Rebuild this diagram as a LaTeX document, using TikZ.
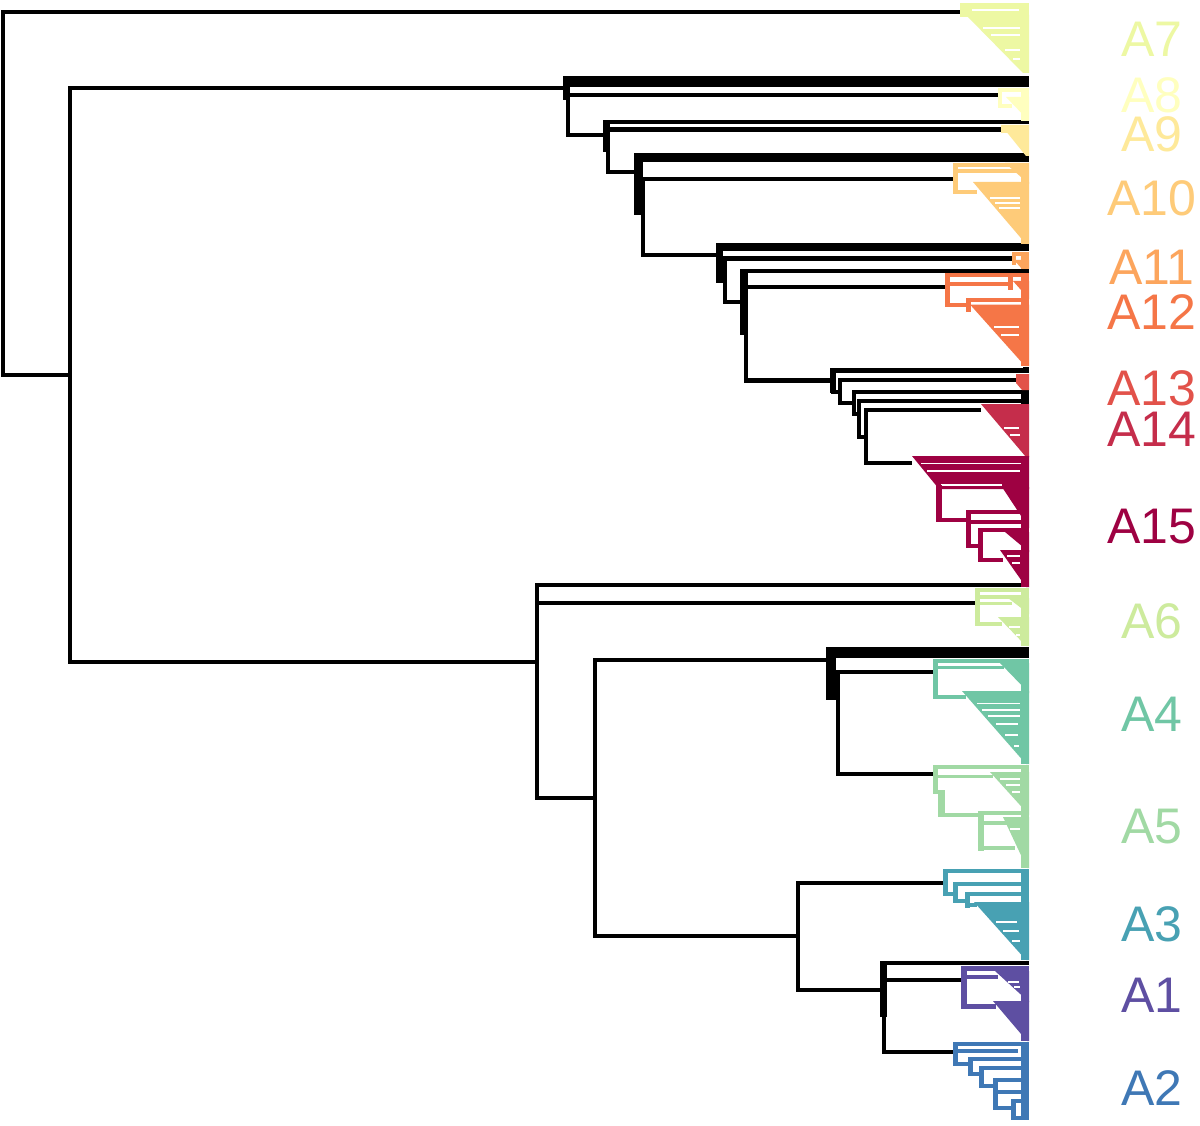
\documentclass[tikz,border=0pt]{standalone}
\usepackage{fontspec}
\setmainfont{Liberation Sans}
\definecolor{A1c}{HTML}{5E4FA2}
\definecolor{A2c}{HTML}{3F78B5}
\definecolor{A3c}{HTML}{48A1B3}
\definecolor{A4c}{HTML}{70C6A5}
\definecolor{A5c}{HTML}{A1D9A4}
\definecolor{A6c}{HTML}{CDEB9D}
\definecolor{A7c}{HTML}{EDF8A3}
\definecolor{A8c}{HTML}{FFFFBF}
\definecolor{A9c}{HTML}{FEE99A}
\definecolor{A10c}{HTML}{FECB79}
\definecolor{A11c}{HTML}{FCA55D}
\definecolor{A12c}{HTML}{F57647}
\definecolor{A13c}{HTML}{E2524A}
\definecolor{A14c}{HTML}{C52D4B}
\definecolor{A15c}{HTML}{9E0142}
\def\R{1029}
\tikzset{
  blk/.style={line width=4.6pt, draw=black},
  wl/.style={draw=white, line width=1.4pt},
  lab/.style={font=\fontsize{50}{60}\selectfont, inner sep=0pt, anchor=center, text height=34pt, text depth=0pt},
}
\begin{document}
\begin{tikzpicture}[x=1pt,y=-1pt]
\useasboundingbox[fill=white] (0,0) rectangle (1200,1126);

% ---------- black skeleton ----------
\draw[blk] (960,12) -| (3,375) -- (70,375);
\draw[blk] (565,88) -| (70,662) -- (537,662);

% upper subtree
\fill (563,76) rectangle (\R,87);
\fill (563,76) rectangle (570,100);
\draw[blk] (998,95) -| (568,135) -- (607,135);
\fill (603,120) rectangle (610,152);
\draw[blk] (\R,122) -| (608,172) -- (638,172);
\draw[blk] (608,129.5) -- (1002,129.5);
\fill (634,153) rectangle (\R,162);
\fill (634,153) rectangle (643,215);
\draw[blk] (953,179) -| (643,255) -- (718,255);
\fill (716,243) rectangle (\R,251);
\fill (716,243) rectangle (723,283);
\draw[blk] (1012,258.5) -| (725,302) -- (743,302);
\fill (740,269) rectangle (747,335);
\draw[blk] (\R,271) -| (746,380.5) -- (832,380.5);
\draw[blk] (746,287) -- (945,287);
\fill (830,368) rectangle (836,393);
\draw[blk] (\R,370.5) -| (833,392) -- (840,392);
\draw[blk] (1016,380) -| (840,403) -- (854,403);
\draw[blk] (\R,392) -| (854,414) -- (859,414);
\draw[blk] (\R,401) -| (859,437) -- (866,437);
\draw[blk] (981,410) -| (866,463) -- (912,463);
\fill (1023,367) rectangle (\R,373);
\fill (1021,391) rectangle (\R,405);

% lower subtree
\draw[blk] (\R,585) -| (537,798) -- (595,798);
\draw[blk] (537,603) -- (975,603);
\draw[blk] (828,660) -| (595,936) -- (798,936);
\fill (826,647) rectangle (\R,658);
\fill (826,647) rectangle (836,700);
\draw[blk] (933,672) -| (838,774) -- (933,774);
\draw[blk] (943,883) -| (798,990) -- (883,990);
\fill (880,961) rectangle (887,1017);
\draw[blk] (\R,963) -| (884,1052) -- (953,1052);
\draw[blk] (884,980) -- (961,980);

% ---------- clusters ----------
% A7
\fill[A7c] (960,3) rectangle (\R,17);
\fill[A7c] (966,15) -- (\R,15) -- (\R,73) -- (1023,73) -- cycle;
\draw[wl] (972,10) -- (1019,10) (983,28) -- (1020,28) (991,35) -- (1020,35) (1005,50) -- (1020,50) (1013,59) -- (1020,59);
% A8
\fill[A8c] (998,88) rectangle (\R,92);
\fill[A8c] (998,88) rectangle (1002,108);
\fill[A8c] (998,104) rectangle (1012,108);
\fill[A8c] (1006,97) -- (\R,97) -- (\R,121) -- cycle;
\fill[A8c] (1021,88) rectangle (\R,121);
% A9
\fill[A9c] (1001,125) -- (\R,125) -- (\R,156) -- (1026,156) -- cycle;
\fill[A9c] (1001,125) rectangle (1008,133);
% A10
\fill[A10c] (953,163) rectangle (\R,167);
\fill[A10c] (953,163) rectangle (958,194);
\fill[A10c] (956,169.5) rectangle (\R,173);
\fill[A10c] (1005,163) -- (\R,163) -- (\R,184) -- cycle;
\fill[A10c] (953,190) rectangle (977,194);
\fill[A10c] (973,182) -- (\R,182) -- (\R,244) -- (1026,244) -- cycle;
\fill[A10c] (1021,163) rectangle (\R,244);
\draw[wl] (990,198) -- (1020,198) (995,203) -- (1020,203) (999,208) -- (1020,208);
% A11
\fill[A11c] (1012,252) rectangle (\R,256);
\fill[A11c] (1012,252) rectangle (1016,265);
\fill[A11c] (1014,260) -- (\R,260) -- (\R,269) -- (1022,269) -- cycle;
\fill[A11c] (1021,252) rectangle (\R,269);
% A12
\fill[A12c] (945,273) rectangle (\R,277);
\fill[A12c] (945,273) rectangle (950,307);
\fill[A12c] (948,282) rectangle (1010,286);
\fill[A12c] (1008,277) rectangle (1013,290);
\fill[A12c] (1013,281) -- (\R,281) -- (\R,299) -- cycle;
\fill[A12c] (945,303) rectangle (970,307);
\fill[A12c] (966,298) rectangle (\R,302);
\fill[A12c] (966,298) rectangle (971,312);
\fill[A12c] (970,304.5) -- (\R,304.5) -- (\R,366) -- (1025,366) -- cycle;
\fill[A12c] (1021,273) rectangle (\R,366);
\draw[wl] (994,327) -- (1019,327) (1001,335) -- (1019,335);
% A13
\fill[A13c] (1016,374) -- (\R,374) -- (\R,390) -- (1022,390) -- (1016,383) -- cycle;
% A14
\fill[A14c] (981,404) -- (\R,404) -- (\R,457) -- (1026,457) -- cycle;
\draw[wl] (1004,428) -- (1019,428) (1010,435) -- (1020,435);
% A15
\fill[A15c] (912,456) -- (\R,456) -- (\R,489) -- (939,489) -- cycle;
\draw[wl] (921,463.5) -- (1021,463.5) (927,471) -- (1020,471) (941,485) -- (1002,485);
\fill[A15c] (936,485) rectangle (942,522);
\fill[A15c] (936,518) rectangle (970,522);
\fill[A15c] (1002,487) -- (\R,487) -- (\R,528) -- cycle;
\fill[A15c] (966,510) rectangle (\R,514);
\fill[A15c] (966,510) rectangle (971,548);
\fill[A15c] (971,519.5) rectangle (\R,524);
\fill[A15c] (966,544) rectangle (982,548);
\fill[A15c] (978,528) rectangle (983,562);
\fill[A15c] (978,528) rectangle (\R,532);
\fill[A15c] (978,558) rectangle (1003,562);
\fill[A15c] (1005,532) -- (\R,532) -- (\R,552) -- cycle;
\fill[A15c] (1000,550) -- (\R,550) -- (\R,587) -- (1026,587) -- cycle;
\fill[A15c] (1021,456) rectangle (\R,587);
\draw[wl] (1007,556) -- (1020,556) (1012,563) -- (1020,563);
% A6
\fill[A6c] (975,588) rectangle (\R,592);
\fill[A6c] (975,588) rectangle (980,626);
\fill[A6c] (977,595) rectangle (\R,598.5);
\fill[A6c] (977,601.5) rectangle (1012,605);
\fill[A6c] (1008,598) -- (\R,598) -- (\R,614) -- cycle;
\fill[A6c] (975,622) rectangle (1002,626);
\fill[A6c] (998,617) -- (\R,617) -- (\R,646) -- (1026,646) -- cycle;
\fill[A6c] (1021,588) rectangle (\R,646);
\draw[wl] (1009,627) -- (1020,627) (1016,635) -- (1020,635);
% A4
\fill[A4c] (933,659) rectangle (\R,663);
\fill[A4c] (933,659) rectangle (938,699);
\fill[A4c] (936,665.5) rectangle (1004,669);
\fill[A4c] (1000,663) -- (\R,663) -- (\R,693) -- cycle;
\fill[A4c] (933,695) rectangle (966,699);
\fill[A4c] (962,691) -- (\R,691) -- (\R,764) -- (1026,764) -- cycle;
\fill[A4c] (1021,659) rectangle (\R,764);
\draw[wl] (977,703.5) -- (1020,703.5) (982,710) -- (1020,710) (988,716) -- (1020,716) (996,724) -- (1018,724) (1005,735) -- (1018,735) (1014,746) -- (1019,746);
% A5
\fill[A5c] (933,764.5) rectangle (\R,768.5);
\fill[A5c] (933,764.5) rectangle (938,794);
\fill[A5c] (936,774.5) rectangle (993,778);
\fill[A5c] (938,790) rectangle (945,817);
\fill[A5c] (938,813) rectangle (982,817);
\fill[A5c] (990,772) -- (\R,772) -- (\R,815) -- cycle;
\fill[A5c] (978,811) rectangle (\R,815);
\fill[A5c] (978,811) rectangle (984,851);
\fill[A5c] (984,821) rectangle (1008,825);
\fill[A5c] (978,846) rectangle (1015,850);
\fill[A5c] (1003,817) -- (\R,817) -- (\R,868) -- (1027,868) -- cycle;
\fill[A5c] (1021,764.5) rectangle (\R,868);
\draw[wl] (1000,779) -- (1020,779) (1006,785) -- (1020,785) (1012,792) -- (1020,792) (1010,829) -- (1020,829);
% A3
\fill[A3c] (943,869) rectangle (\R,873);
\fill[A3c] (943,869) rectangle (948,896);
\fill[A3c] (943,892) rectangle (957,896);
\fill[A3c] (953,882) rectangle (\R,886);
\fill[A3c] (953,882) rectangle (958,903);
\fill[A3c] (953,899) rectangle (968,903);
\fill[A3c] (965,892) rectangle (\R,896);
\fill[A3c] (965,892) rectangle (970,908);
\fill[A3c] (965,903) rectangle (977,907);
\fill[A3c] (974,902) -- (\R,902) -- (\R,960) -- (1026,960) -- cycle;
\fill[A3c] (1021,869) rectangle (\R,960);
\draw[wl] (996,922) -- (1017,922) (1003,931) -- (1019,931) (1012,941) -- (1020,941);
% A1
\fill[A1c] (961,966) rectangle (\R,971);
\fill[A1c] (961,966) rectangle (967,1009);
\fill[A1c] (963,975) rectangle (998,979);
\fill[A1c] (995,971) -- (\R,971) -- (\R,1002) -- cycle;
\fill[A1c] (961,1004) rectangle (996,1009);
\fill[A1c] (993,1001) -- (\R,1001) -- (\R,1041) -- (1027,1041) -- cycle;
\fill[A1c] (1021,966) rectangle (\R,1041);
\draw[wl] (1008,982) -- (1019,982) (1014,987) -- (1020,987);
% A2
\fill[A2c] (953,1042) rectangle (\R,1046);
\fill[A2c] (953,1042) rectangle (958,1066);
\fill[A2c] (955,1049) rectangle (1018,1053);
\fill[A2c] (953,1062) rectangle (972,1066);
\fill[A2c] (968,1057) rectangle (\R,1061);
\fill[A2c] (968,1057) rectangle (973,1076);
\fill[A2c] (968,1072) rectangle (983,1076);
\fill[A2c] (979,1066) rectangle (\R,1070);
\fill[A2c] (979,1066) rectangle (984,1088);
\fill[A2c] (979,1084) rectangle (996,1088);
\fill[A2c] (993,1078) rectangle (\R,1082);
\fill[A2c] (993,1078) rectangle (998,1110);
\fill[A2c] (998,1090) rectangle (\R,1094);
\fill[A2c] (993,1106) rectangle (1013,1110);
\fill[A2c] (1011,1099) rectangle (\R,1103);
\fill[A2c] (1011,1099) rectangle (1016,1120);
\fill[A2c] (1011,1116) rectangle (\R,1120);
\fill[A2c] (1021,1042) rectangle (\R,1120);

% ---------- labels ----------
\node[lab,text=A7c] (lA7) at (1152,40) {A7};
\node[lab,text=A8c] (lA8) at (1152,96) {A8};
\node[lab,text=A9c] (lA9) at (1152,135) {A9};
\node[lab,text=A10c] (lA10) at (1152,199) {A10};
\node[lab,text=A11c] (lA11) at (1152,268) {A11};
\node[lab,text=A12c] (lA12) at (1152,313) {A12};
\node[lab,text=A13c] (lA13) at (1152,388) {A13};
\node[lab,text=A14c] (lA14) at (1152,429) {A14};
\node[lab,text=A15c] (lA15) at (1152,526) {A15};
\node[lab,text=A6c] (lA6) at (1152,621) {A6};
\node[lab,text=A4c] (lA4) at (1152,714) {A4};
\node[lab,text=A5c] (lA5) at (1152,826) {A5};
\node[lab,text=A3c] (lA3) at (1152,924) {A3};
\node[lab,text=A1c] (lA1) at (1152,995) {A1};
\node[lab,text=A2c] (lA2) at (1152,1088) {A2};
\end{tikzpicture}
\end{document}
